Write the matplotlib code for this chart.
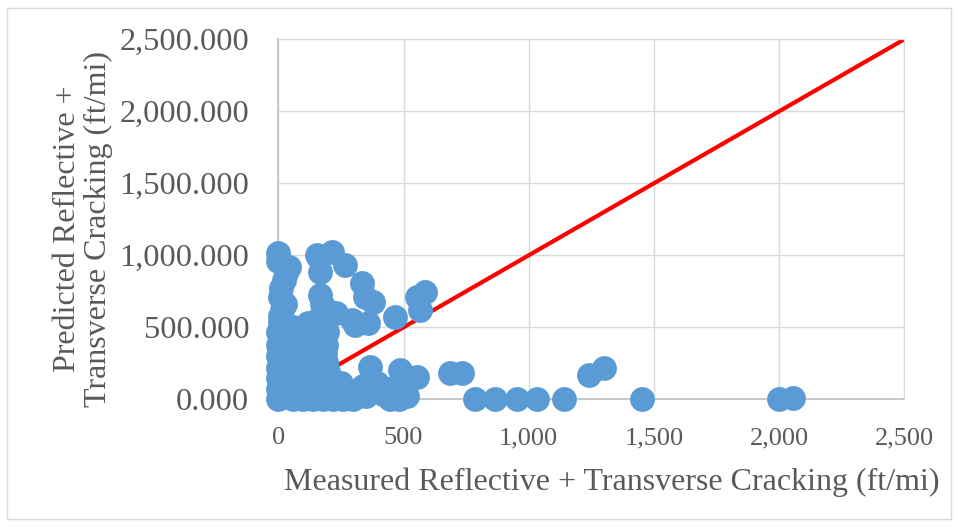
import numpy as np
import matplotlib
matplotlib.use("Agg")
import matplotlib.pyplot as plt
from matplotlib.patches import Rectangle
from matplotlib.ticker import FuncFormatter

# donnees (ft/mi)
mesure_droite = [685, 732, 785, 865, 955, 1034, 1140, 1240, 1301, 1454, 2001, 2055]
predit_droite = [180, 183, 5, 0, 0, 0, 0, 170, 215, 0, 5, 10]

mesure_milieu = [366, 486, 552, 512, 446, 480, 420, 460, 500, 530, 395, 380, 350, 340]
predit_milieu = [226, 203, 157, 20, 0, 0, 40, 80, 120, 150, 110, 60, 20, 90]

mesure_haut = [153, 213, 166, 266, 333, 166, 379, 346, 306, 359, 466, 565, 585, 552,
               206, 153, 193, 133, 186, 294, 230, 175, 161]
predit_haut = [1002, 1025, 886, 933, 805, 724, 678, 712, 516, 527, 574, 620, 747, 712,
               608, 551, 470, 481, 319, 551, 600, 660, 979]

mesure_gauche = [0, 41, 22, 7, 15, 7, 0, 20, 0, 30, 0, 15, 0, 35, 0, 20, 0, 40, 0, 10,
                 30, 10, 25, 0, 5]
predit_gauche = [1014, 921, 828, 712, 620, 539, 470, 420, 380, 340, 300, 260, 220, 190,
                 150, 110, 70, 40, 0, 30, 880, 770, 660, 960, 580]

mesure_amas = [60, 100, 140, 180, 220, 260, 300, 60, 100, 140, 180, 220, 260, 300,
               60, 100, 140, 180, 210, 250, 60, 100, 140, 180, 200, 60, 100, 140, 180,
               70, 110, 150, 190, 100, 140, 40, 80, 120, 160, 200, 40, 80, 120, 160,
               40, 80, 120, 160, 190, 60, 120, 170]
predit_amas = [0, 0, 0, 0, 0, 0, 0, 80, 60, 90, 70, 50, 40, 50,
               160, 150, 170, 150, 140, 110, 240, 230, 250, 230, 200, 320, 320, 330, 300,
               400, 390, 400, 380, 460, 480, 120, 110, 120, 110, 100, 200, 200, 210, 190,
               280, 280, 290, 270, 260, 500, 530, 420]

mesure = mesure_gauche + mesure_amas + mesure_haut + mesure_milieu + mesure_droite
predit = predit_gauche + predit_amas + predit_haut + predit_milieu + predit_droite

ligne_egalite = [0, 2500]

gris = '#595959'
police = 'Liberation Serif'

fig = plt.figure(figsize=(9.58, 5.27), dpi=100)
ax = fig.add_axes([0.2905, 0.2423, 0.944 - 0.2905, 0.9254 - 0.2423])

ax.plot(ligne_egalite, ligne_egalite, color='#ff0000', linewidth=3, zorder=2)
ax.scatter(mesure, predit, s=320, color='#5b9bd5', linewidths=0, zorder=3, clip_on=False)

ax.set_xlim(0, 2500)
ax.set_ylim(0, 2500)
ax.set_xticks(np.arange(0, 2501, 500))
ax.set_yticks(np.arange(0, 2501, 500))
ax.xaxis.set_major_formatter(FuncFormatter(lambda v, p: f'{v:,.0f}'))
ax.yaxis.set_major_formatter(FuncFormatter(lambda v, p: f'{v:,.3f}'))
ax.grid(True, color='#d9d9d9', linewidth=1)
ax.set_axisbelow(True)
ax.tick_params(axis='x', length=0, pad=20, colors=gris)
ax.tick_params(axis='y', length=0, pad=21, colors=gris)
for lab in ax.get_xticklabels():
    lab.set_fontfamily(police)
    lab.set_fontsize(19)
for lab in ax.get_yticklabels():
    lab.set_fontfamily(police)
    lab.set_fontsize(23.3)
for cote in ['top', 'right']:
    ax.spines[cote].set_color('#d9d9d9')
for cote in ['left', 'bottom']:
    ax.spines[cote].set_color('#bfbfbf')
    ax.spines[cote].set_linewidth(1.2)

fig.text(0.639, 0.0854, 'Measured Reflective + Transverse Cracking (ft/mi)',
         ha='center', va='center', fontsize=23, color=gris, fontfamily=police)
fig.text(0.087, 0.566, 'Predicted Reflective +\nTransverse Cracking (ft/mi)',
         ha='center', va='center', rotation=90, fontsize=23, color=gris,
         fontfamily=police, linespacing=1.1, multialignment='center')

fig.patches.append(Rectangle((7 / 958, 8 / 527), 944 / 958, 511 / 527, transform=fig.transFigure,
                             fill=False, edgecolor='#d9d9d9', linewidth=1))

fig.savefig('out.png', dpi=100)
